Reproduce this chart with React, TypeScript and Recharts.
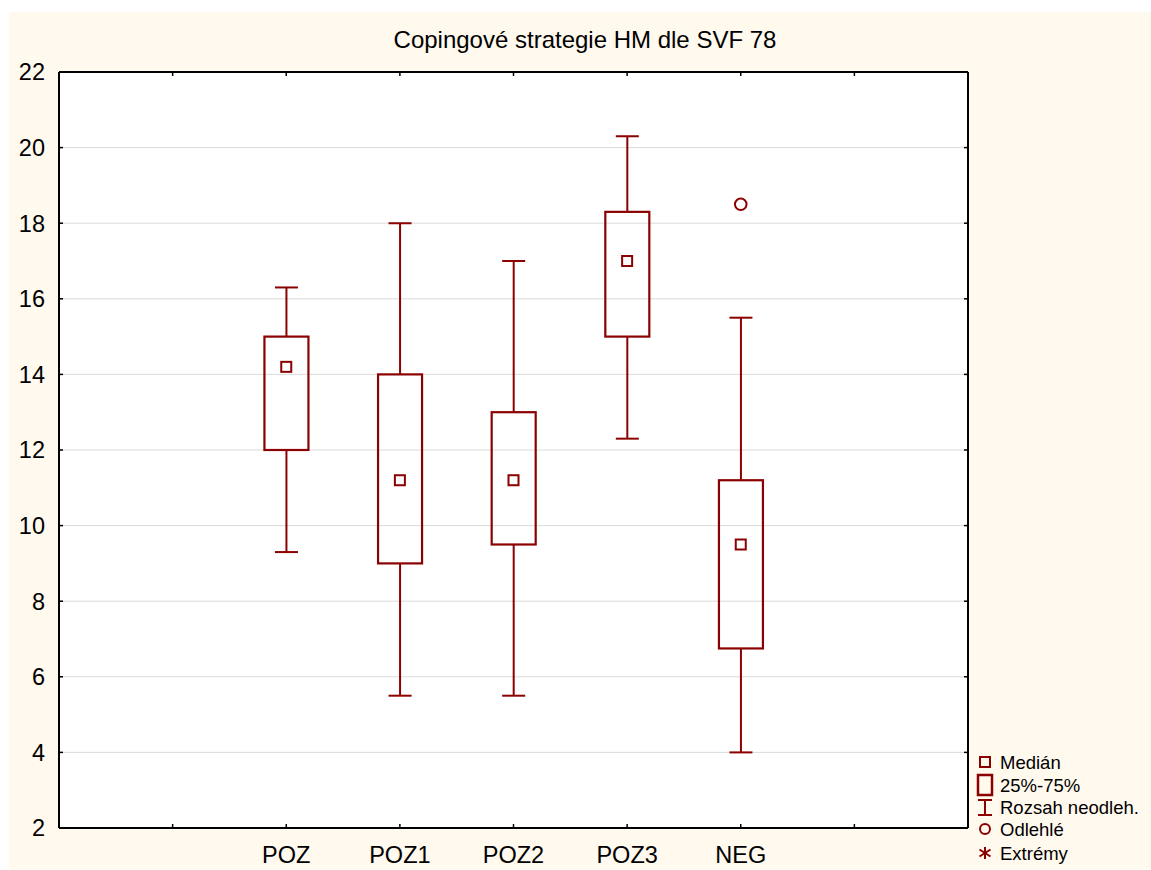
import React from 'react';
import {
  ComposedChart,
  Bar,
  Scatter,
  XAxis,
  YAxis,
  CartesianGrid,
  Legend,
} from 'recharts';

// ---- data ----
const categories = ['POZ', 'POZ1', 'POZ2', 'POZ3', 'NEG'];
const categoryPositions = [2, 3, 4, 5, 6];
const whiskerLow = [9.3, 5.5, 5.5, 12.3, 4.0];
const quartile1 = [12.0, 9.0, 9.5, 15.0, 6.75];
const medians = [14.2, 11.2, 11.2, 17.0, 9.5];
const quartile3 = [15.0, 14.0, 13.0, 18.3, 11.2];
const whiskerHigh = [16.3, 18.0, 17.0, 20.3, 15.5];
const outlierPositions = [6];
const outlierValues = [18.5];
const yTicks = [2, 4, 6, 8, 10, 12, 14, 16, 18, 20, 22];
const xTicks = [1, 2, 3, 4, 5, 6, 7];
const legendLabels = ['Medián', '25%-75%', 'Rozsah neodleh.', 'Odlehlé', 'Extrémy'];

const TITLE = 'Copingové strategie HM dle SVF 78';
const RED = '#8B0000';
const FONT = '"Liberation Sans", Arial, Helvetica, sans-serif';
const W = 1142;
const H = 857;

// stacked table built from the arrays above
const boxData = categoryPositions.map((x, i) => ({
  x,
  base: whiskerLow[i],
  lowWhisker: quartile1[i] - whiskerLow[i],
  box: quartile3[i] - quartile1[i],
  highWhisker: whiskerHigh[i] - quartile3[i],
}));
const medianData = categoryPositions.map((x, i) => ({ x, median: medians[i] }));
const outlierData = outlierPositions.map((x, i) => ({ x, outlier: outlierValues[i] }));

const labelFor = (v: number) => {
  const idx = categoryPositions.indexOf(v);
  return idx >= 0 ? categories[idx] : '';
};

const span = (p: any) => {
  const top = Math.min(p.y, p.y + p.height);
  const bot = Math.max(p.y, p.y + p.height);
  return { top, bot, cx: p.x + p.width / 2, left: p.x, right: p.x + p.width };
};

const CAP = 11.5;

const EmptyShape = () => <g />;

const LowWhiskerShape = (p: any) => {
  const { top, bot, cx } = span(p);
  return (
    <g stroke={RED} strokeWidth={2}>
      <line x1={cx} x2={cx} y1={top} y2={bot} />
      <line x1={cx - CAP} x2={cx + CAP} y1={bot} y2={bot} />
    </g>
  );
};

const HighWhiskerShape = (p: any) => {
  const { top, bot, cx } = span(p);
  return (
    <g stroke={RED} strokeWidth={2}>
      <line x1={cx} x2={cx} y1={top} y2={bot} />
      <line x1={cx - CAP} x2={cx + CAP} y1={top} y2={top} />
    </g>
  );
};

const BoxShape = (p: any) => {
  const { top, bot, left, right } = span(p);
  return (
    <rect x={left} y={top} width={right - left} height={bot - top} fill="none" stroke={RED} strokeWidth={2.2} />
  );
};

const MedianShape = (p: any) => (
  <rect x={p.cx - 5} y={p.cy - 5} width={10} height={10} fill="none" stroke={RED} strokeWidth={2} />
);

const OutlierShape = (p: any) => (
  <circle cx={p.cx} cy={p.cy} r={5.8} fill="none" stroke={RED} strokeWidth={2} />
);

const LegendContent = () => {
  const rows = [12, 35, 57, 79, 103];
  const ix = 16;
  return (
    <svg width={180} height={120} style={{ display: 'block' }}>
      <rect x={ix - 5} y={rows[0] - 5} width={10} height={10} fill="none" stroke={RED} strokeWidth={2} />
      <rect x={ix - 7} y={rows[1] - 10} width={14} height={20} fill="none" stroke={RED} strokeWidth={2.5} />
      <g stroke={RED} strokeWidth={2}>
        <line x1={ix - 7} x2={ix + 7} y1={rows[2] - 7} y2={rows[2] - 7} />
        <line x1={ix} x2={ix} y1={rows[2] - 7} y2={rows[2] + 8} />
        <line x1={ix - 7} x2={ix + 7} y1={rows[2] + 8} y2={rows[2] + 8} />
      </g>
      <circle cx={ix} cy={rows[3]} r={5} fill="none" stroke={RED} strokeWidth={2} />
      <g stroke={RED} strokeWidth={2}>
        <line x1={ix} x2={ix} y1={rows[4] - 6} y2={rows[4] + 6} />
        <line x1={ix - 5.5} x2={ix + 5.5} y1={rows[4] - 3.5} y2={rows[4] + 3.5} />
        <line x1={ix - 5.5} x2={ix + 5.5} y1={rows[4] + 3.5} y2={rows[4] - 3.5} />
      </g>
      {legendLabels.map((t, i) => (
        <text key={t} x={31} y={rows[i]} dy="0.36em" fontFamily={FONT} fontSize={18.5} fill="#000">
          {t}
        </text>
      ))}
    </svg>
  );
};

const axisLine = { stroke: '#000', strokeWidth: 2 };
const tickLine = { stroke: '#000', strokeWidth: 1.5 };

export default function App() {
  return (
    <div
      style={{
        position: 'absolute',
        left: 9,
        top: 12,
        width: W,
        height: H,
        background: '#FFF9EE',
        fontFamily: FONT,
      }}
    >
      <div
        style={{
          position: 'absolute',
          left: 0,
          top: 14,
          width: 1152,
          textAlign: 'center',
          fontSize: 24,
          color: '#000',
          fontFamily: FONT,
          zIndex: 2,
        }}
      >
        {TITLE}
      </div>
      <div style={{ position: 'absolute', left: 50, top: 60, width: 909, height: 756, background: '#fff' }} />
      <ComposedChart
        width={W}
        height={H}
        data={boxData}
        margin={{ top: 59, right: 182, bottom: 0, left: 0 }}
        style={{ position: 'absolute', left: 0, top: 0 }}
      >
        <CartesianGrid vertical={false} stroke="#dadada" strokeWidth={1} />
        <XAxis
          dataKey="x"
          type="number"
          domain={[0, 8]}
          ticks={xTicks}
          interval={0}
          height={41}
          tickSize={-4}
          tickMargin={22}
          tickFormatter={labelFor}
          axisLine={axisLine}
          tickLine={tickLine}
          tick={{ fill: '#000', fontSize: 23.5, fontFamily: FONT }}
        />
        <XAxis
          xAxisId="top"
          dataKey="x"
          type="number"
          orientation="top"
          domain={[0, 8]}
          ticks={xTicks}
          interval={0}
          height={1}
          tickSize={-4}
          tickFormatter={() => ''}
          axisLine={axisLine}
          tickLine={tickLine}
        />
        <YAxis
          type="number"
          domain={[2, 22]}
          ticks={yTicks}
          interval={0}
          allowDataOverflow
          width={50}
          tickSize={-4}
          tickMargin={18}
          axisLine={axisLine}
          tickLine={tickLine}
          tick={{ fill: '#000', fontSize: 23.5, fontFamily: FONT }}
        />
        <YAxis
          yAxisId="r"
          orientation="right"
          type="number"
          domain={[2, 22]}
          ticks={yTicks}
          interval={0}
          allowDataOverflow
          width={1}
          tickSize={-4}
          tickFormatter={() => ''}
          axisLine={axisLine}
          tickLine={tickLine}
        />
        <Bar dataKey="base" stackId="box" barSize={44} shape={EmptyShape} isAnimationActive={false} legendType="none" />
        <Bar dataKey="lowWhisker" stackId="box" barSize={44} shape={LowWhiskerShape} isAnimationActive={false} legendType="none" />
        <Bar dataKey="box" stackId="box" barSize={44} shape={BoxShape} isAnimationActive={false} legendType="none" />
        <Bar dataKey="highWhisker" stackId="box" barSize={44} shape={HighWhiskerShape} isAnimationActive={false} legendType="none" />
        <Scatter data={medianData} dataKey="median" shape={MedianShape} isAnimationActive={false} legendType="none" />
        <Scatter data={outlierData} dataKey="outlier" shape={OutlierShape} isAnimationActive={false} legendType="none" />
        <Legend
          layout="vertical"
          align="center"
          verticalAlign="middle"
          content={LegendContent}
          wrapperStyle={{ position: 'absolute', left: 960, top: 738, width: 180, height: 120 }}
        />
      </ComposedChart>
    </div>
  );
}
